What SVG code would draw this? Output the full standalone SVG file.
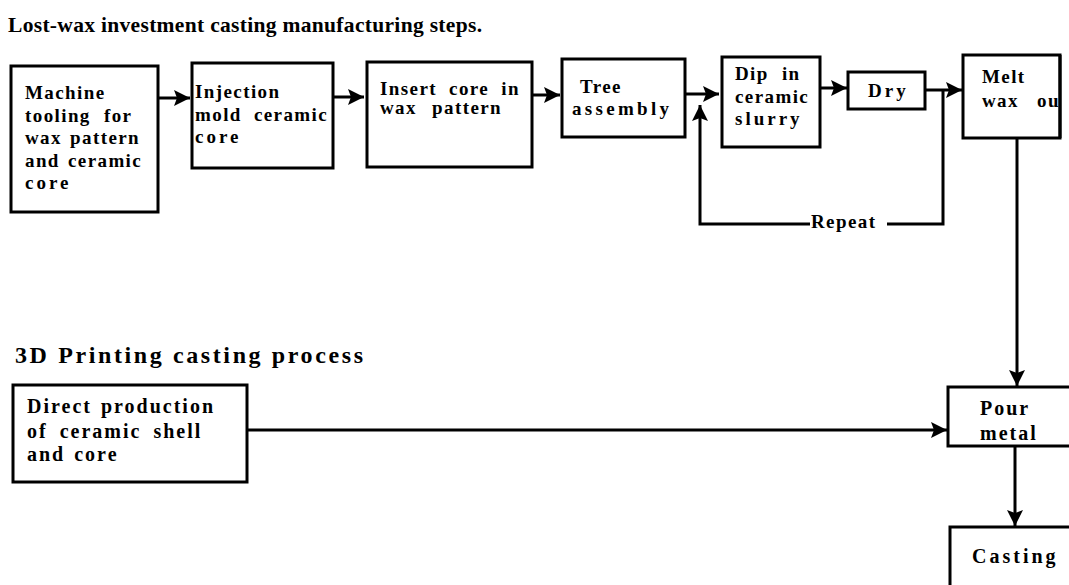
<svg xmlns="http://www.w3.org/2000/svg" width="1069" height="585" viewBox="0 0 1069 585">
<style>
.box{fill:#fff;stroke:#000;stroke-width:3}
.t{font-family:"Liberation Serif","Times New Roman",serif;font-weight:bold;font-size:19px;letter-spacing:1.4px;word-spacing:2px;fill:#000}
.b{font-size:20px;letter-spacing:2px}
.h{font-family:"Liberation Serif","Times New Roman",serif;font-weight:bold;fill:#000}
.c{fill:none;stroke:#000;stroke-width:3}
</style>
<defs>
<marker id="ah" markerUnits="userSpaceOnUse" markerWidth="18" markerHeight="18" viewBox="0 0 18 18" refX="17" refY="9" orient="auto">
<path d="M1,1 L17,9 L1,17 L4,9 Z" fill="#000"/>
</marker>
<clipPath id="meltclip"><rect x="963" y="55" width="96" height="83"/></clipPath>
</defs>
<text class="h" x="8" y="32" font-size="21.5" textLength="474" lengthAdjust="spacing">Lost-wax investment casting manufacturing steps.</text>
<text class="h" x="15" y="363" font-size="24" textLength="348" lengthAdjust="spacing">3D Printing casting process</text>
<g id="connectors">
<line class="c" x1="158" y1="98" x2="190" y2="98" marker-end="url(#ah)"/>
<line class="c" x1="333" y1="97" x2="364" y2="97" marker-end="url(#ah)"/>
<line class="c" x1="532" y1="95" x2="560" y2="95" marker-end="url(#ah)"/>
<line class="c" x1="685" y1="94" x2="719" y2="94" marker-end="url(#ah)"/>
<line class="c" x1="820" y1="88" x2="847" y2="88" marker-end="url(#ah)"/>
<line class="c" x1="925" y1="90" x2="962" y2="90" marker-end="url(#ah)"/>
<polyline class="c" points="943,90 943,224 887,224"/>
<polyline class="c" points="810,224 700,224 700,105" marker-end="url(#ah)"/>
<line class="c" x1="1017" y1="138" x2="1017" y2="386" marker-end="url(#ah)"/>
<line class="c" x1="247" y1="430" x2="947" y2="430" marker-end="url(#ah)"/>
<line class="c" x1="1015" y1="446" x2="1015" y2="526" marker-end="url(#ah)"/>
<text class="t" x="811" y="228">Repeat</text>
</g>
<g id="n1">
<rect class="box" x="11" y="66" width="147" height="146"/>
<text class="t" x="25" y="99">Machine</text>
<text class="t" x="25" y="122" style="word-spacing:7px">tooling for</text>
<text class="t" x="25" y="144">wax pattern</text>
<text class="t" x="25" y="167">and ceramic</text>
<text class="t" x="25" y="189" style="letter-spacing:3px">core</text>
</g>
<g id="n2">
<rect class="box" x="192" y="63" width="141" height="105"/>
<text class="t" x="195" y="98">Injection</text>
<text class="t" x="195" y="121" style="word-spacing:6px">mold ceramic</text>
<text class="t" x="195" y="143" style="letter-spacing:3px">core</text>
</g>
<g id="n3">
<rect class="box" x="367" y="62" width="165" height="105"/>
<text class="t" x="380" y="95" style="word-spacing:6px">Insert core in</text>
<text class="t" x="380" y="114" style="word-spacing:9px">wax pattern</text>
</g>
<g id="n4">
<rect class="box" x="562" y="59" width="123" height="78"/>
<text class="t" x="580" y="93">Tree</text>
<text class="t" x="572" y="115" style="letter-spacing:3.3px">assembly</text>
</g>
<g id="n5">
<rect class="box" x="722" y="57" width="98" height="90"/>
<text class="t" x="735" y="80" style="word-spacing:7px">Dip in</text>
<text class="t" x="735" y="103">ceramic</text>
<text class="t" x="735" y="125" style="letter-spacing:3px">slurry</text>
</g>
<g id="n6">
<rect class="box" x="848" y="72" width="77" height="37"/>
<text class="t" x="868" y="97" style="letter-spacing:3px">Dry</text>
</g>
<g id="n7">
<rect class="box" x="963" y="55" width="97" height="83"/>
<text class="t" x="982" y="83">Melt</text>
<text class="t" x="982" y="107" style="word-spacing:12px" clip-path="url(#meltclip)">wax out</text>
<line x1="1060" y1="55" x2="1060" y2="138" stroke="#000" stroke-width="3"/>
</g>
<g id="n8">
<rect class="box" x="13" y="385" width="234" height="97"/>
<text class="t b" x="27" y="413">Direct production</text>
<text class="t b" x="27" y="438" style="word-spacing:5px">of ceramic shell</text>
<text class="t b" x="27" y="461">and core</text>
</g>
<g id="n9">
<rect class="box" x="948" y="387" width="130" height="59"/>
<text class="t b" x="980" y="415">Pour</text>
<text class="t b" x="980" y="440">metal</text>
</g>
<g id="n10">
<rect class="box" x="950" y="527" width="130" height="70"/>
<text class="t b" x="972" y="563" style="letter-spacing:3px">Casting</text>
</g>
</svg>
